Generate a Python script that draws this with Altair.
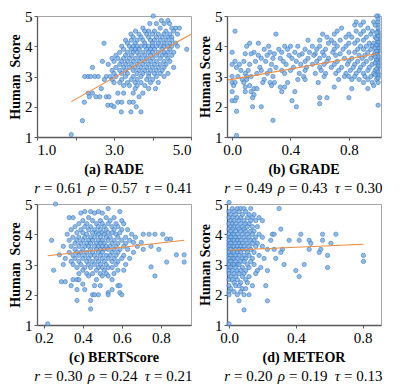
import altair as alt
import pandas as pd

# ---------------- (a) RADE ----------------
rade_levels = [5.0, 4.85, 4.75, 4.6, 4.5, 4.4, 4.3, 4.2, 4.1, 4.0, 3.9, 3.8, 3.7, 3.6, 3.5, 3.4,
               3.3, 3.2, 3.1, 3.0, 2.9, 2.8, 2.7, 2.6, 2.45, 2.33, 2.15, 2.05, 2.0, 1.83, 1.54, 1.08]
rade_rows = [
    [4.02],
    [4.23, 4.4],
    [3.93, 4.1, 4.44, 4.3],
    [4.6, 4.7, 4.5, 4.2, 3.75],
    [3.56, 3.8, 4.05, 4.35, 4.55, 3.9],
    [3.44, 3.65, 3.85, 4.0, 4.15, 4.3, 4.45, 4.65],
    [3.5, 3.7, 3.9, 4.1, 4.25, 4.4, 4.5],
    [3.3, 3.45, 3.6, 3.75, 3.95, 4.05, 4.2, 4.35, 4.5],
    [2.74, 3.35, 3.55, 3.8, 4.0, 4.15, 4.3, 4.45, 4.6],
    [3.2, 3.4, 3.5, 3.6, 3.7, 3.8, 3.9, 4.0, 4.1, 4.2, 4.3, 4.4, 4.5, 4.65],
    [3.25, 3.45, 3.55, 3.65, 3.85, 3.95, 4.05, 4.25, 4.45, 4.89],
    [3.15, 3.35, 3.5, 3.6, 3.75, 3.9, 4.0, 4.15, 4.3, 4.4, 4.55],
    [3.05, 3.3, 3.45, 3.65, 3.8, 3.95, 4.1, 4.25, 4.35, 4.5],
    [2.95, 3.1, 3.25, 3.4, 3.55, 3.7, 3.85, 4.0, 4.2, 4.4],
    [2.7, 3.0, 3.2, 3.35, 3.5, 3.65, 3.8, 3.95, 4.1, 4.3, 4.45],
    [2.85, 3.15, 3.3, 3.45, 3.6, 3.75, 3.9, 4.05, 4.2, 4.35],
    [2.44, 3.05, 3.25, 3.4, 3.55, 3.7, 3.85, 4.0, 4.15, 4.3, 4.55],
    [2.95, 3.15, 3.3, 3.5, 3.65, 3.8, 3.95, 4.1, 4.25],
    [3.0, 3.2, 3.35, 3.6, 3.75, 3.9, 4.05, 4.2, 4.4],
    [2.24, 2.33, 2.39, 2.5, 2.59, 2.8, 2.9, 3.05, 3.3, 3.5, 3.7, 3.9, 4.1, 4.3],
    [2.75, 2.95, 3.2, 3.45, 3.6, 3.85, 4.0],
    [3.0, 3.15, 3.35, 3.55, 3.7, 3.95, 4.15],
    [3.25, 3.4, 3.6, 3.8],
    [2.67, 3.55, 3.9, 4.08],
    [2.33, 2.44, 3.1, 3.25, 3.5, 3.75],
    [2.36, 2.53, 2.63, 2.8, 2.87, 3.65],
    [2.23, 3.1, 3.2, 3.4, 3.5],
    [2.84, 2.93],
    [3.0, 3.58],
    [3.19, 3.44, 3.7],
    [2.18],
    [1.89],
]
rade_line_x = [1.89, 5.0]
rade_line_y = [2.17, 4.4]
rade_caption = "(a) RADE"
rade_stats = ["0.61", "0.57", "0.41"]

# ---------------- (b) GRADE ----------------
grade_levels = [5.0, 4.9, 4.8, 4.7, 4.6, 4.5, 4.4, 4.3, 4.2, 4.1, 4.0, 3.9, 3.8, 3.75, 3.7, 3.6, 3.5,
                3.4, 3.3, 3.2, 3.1, 3.0, 2.9, 2.8, 2.7, 2.65, 2.6, 2.5, 2.4, 2.3, 2.2, 2.1, 2.05,
                2.0, 1.85, 1.55, 1.05, 3.55, 3.65, 3.85, 3.95, 4.05, 4.15, 4.25, 4.35, 4.45, 3.45,
                3.35, 3.25, 3.15, 3.05, 2.95]
grade_rows = [
    [1.0, 0.99],
    [1.0],
    [0.85, 0.9, 0.97, 1.0],
    [0.84, 0.88, 1.0, 0.98],
    [0.75, 0.93, 1.0],
    [0.02, 0.72, 0.85, 0.9, 1.0, 0.96],
    [0.3, 0.62, 0.7, 0.8, 0.88, 0.95, 1.0],
    [0.65, 0.78, 0.82, 0.92, 1.0, 0.98],
    [0.52, 0.6, 0.68, 0.74, 0.86, 0.9, 1.0],
    [0.18, 0.12, 0.66, 0.7, 0.8, 0.84, 0.94, 1.0, 0.97],
    [0.1, 0.25, 0.36, 0.4, 0.45, 0.55, 0.6, 0.72, 0.78, 0.88, 0.92, 0.96, 1.0, 0.99],
    [0.22, 0.32, 0.38, 0.5, 0.58, 0.64, 0.7, 0.76, 0.86, 0.9, 0.95, 1.0],
    [0.0, 0.15, 0.26, 0.34, 0.43, 0.53, 0.62, 0.69, 0.8, 0.84, 0.93, 0.98, 1.0],
    [0.09, 0.13, 0.29, 0.48, 0.57, 0.74],
    [0.18, 0.24, 0.39, 0.46, 0.56, 0.63, 0.71, 0.87, 0.91, 0.97, 1.0],
    [0.2, 0.28, 0.33, 0.41, 0.52, 0.6, 0.66, 0.77, 0.82, 0.89, 0.95, 1.0],
    [0.02, 0.08, 0.16, 0.23, 0.35, 0.44, 0.5, 0.58, 0.65, 0.72, 0.8, 0.86, 0.92, 0.99, 1.0],
    [0.0, 0.05, 0.12, 0.27, 0.37, 0.47, 0.55, 0.63, 0.7, 0.79, 0.84, 0.9, 0.96, 1.0],
    [0.03, 0.19, 0.3, 0.42, 0.51, 0.6, 0.68, 0.75, 0.83, 0.88, 0.94, 1.0],
    [0.06, 0.11, 0.2, 0.26, 0.34, 0.4, 0.5, 0.61, 0.73, 0.81, 0.87, 0.93, 0.98],
    [0.09, 0.17, 0.24, 0.36, 0.46, 0.57, 0.64, 0.71, 0.78, 0.85, 0.9, 0.97, 1.0],
    [0.0, 0.04, 0.1, 0.13, 0.28, 0.49, 0.63, 0.77, 0.8, 0.84, 0.91, 0.95, 1.0],
    [0.07, 0.1, 0.22, 0.45, 0.5, 0.73, 0.82, 0.87, 0.93, 0.99],
    [0.0, 0.02, 0.08, 0.21, 0.26, 0.29, 0.38, 0.59, 0.9, 0.96, 1.0],
    [0.01, 0.12, 0.27, 0.97],
    [0.09, 0.33, 0.36, 0.7],
    [0.15, 0.17, 0.82, 0.93],
    [0.0, 0.09, 0.13, 0.34, 0.43],
    [0.15],
    [0.03, 0.14, 0.6, 0.65, 0.8],
    [0.0, 0.02, 0.41],
    [0.6],
    [1.0],
    [0.14, 0.2, 0.44],
    [0.03],
    [0.28],
    [0.03],
    [1.0, 0.99], [1.0, 0.98], [1.0, 0.99], [1.0, 0.98], [1.0, 0.99], [1.0], [1.0, 0.99],
    [1.0], [1.0, 0.99], [1.0, 0.98], [1.0], [1.0, 0.99], [1.0], [1.0, 0.98], [1.0],
]
grade_line_x = [-0.03, 1.0]
grade_line_y = [2.88, 3.76]
grade_caption = "(b) GRADE"
grade_stats = ["0.49", "0.43", "0.30"]

# ---------------- (c) BERTScore ----------------
bert_levels = [5.0, 4.85, 4.75, 4.7, 4.55, 4.45, 4.35, 4.25, 4.15, 4.05, 4.0, 3.9, 3.84, 3.8, 3.73,
               3.7, 3.6, 3.5, 3.4, 3.32, 3.3, 3.2, 3.08, 3.1, 3.0, 2.92, 2.9, 2.81, 2.7, 2.62,
               2.5, 2.43, 2.35, 2.3, 2.17, 2.07, 2.0, 1.81, 1.53, 1.04]
bert_rows = [
    [0.26],
    [0.53],
    [0.44, 0.48, 0.59, 0.41],
    [0.39, 0.46, 0.5],
    [0.33, 0.35, 0.43, 0.52, 0.56],
    [0.4, 0.45, 0.49, 0.54, 0.6],
    [0.38, 0.42, 0.47, 0.5, 0.53, 0.57, 0.61],
    [0.36, 0.41, 0.44, 0.48, 0.51, 0.55, 0.58],
    [0.34, 0.39, 0.43, 0.46, 0.49, 0.52, 0.56, 0.6, 0.63],
    [0.37, 0.4, 0.45, 0.47, 0.5, 0.53, 0.55, 0.59],
    [0.32, 0.42, 0.48, 0.51, 0.57, 0.65, 0.71, 0.74, 0.77, 0.81],
    [0.35, 0.38, 0.41, 0.44, 0.46, 0.49, 0.52, 0.54, 0.58, 0.62, 0.67],
    [0.83, 0.85],
    [0.24, 0.33, 0.37, 0.4, 0.43, 0.45, 0.48, 0.5, 0.53, 0.56, 0.6, 0.64],
    [0.7, 0.66],
    [0.36, 0.39, 0.42, 0.44, 0.47, 0.49, 0.51, 0.55, 0.58, 0.62],
    [0.3, 0.34, 0.38, 0.41, 0.43, 0.46, 0.48, 0.5, 0.52, 0.54, 0.57, 0.61, 0.68, 0.75],
    [0.36, 0.4, 0.44, 0.47, 0.49, 0.51, 0.53, 0.56, 0.59, 0.63, 0.71, 0.79],
    [0.33, 0.37, 0.39, 0.42, 0.45, 0.48, 0.5, 0.55, 0.58, 0.66],
    [0.28, 0.88, 0.92],
    [0.35, 0.38, 0.41, 0.44, 0.46, 0.49, 0.52, 0.54, 0.57, 0.61],
    [0.31, 0.36, 0.4, 0.43, 0.47, 0.5, 0.53, 0.56, 0.6, 0.64],
    [0.83, 0.92],
    [0.34, 0.38, 0.42, 0.45, 0.48, 0.51, 0.55, 0.58],
    [0.3, 0.35, 0.39, 0.43, 0.46, 0.49, 0.52, 0.57, 0.62],
    [0.75],
    [0.37, 0.41, 0.44, 0.48, 0.5, 0.53, 0.55],
    [0.25, 0.4, 0.47, 0.51, 0.58, 0.61],
    [0.38, 0.42, 0.45, 0.49, 0.52, 0.56],
    [0.77, 0.43, 0.5, 0.53],
    [0.35, 0.37, 0.38, 0.47, 0.55],
    [0.29, 0.31],
    [0.4],
    [0.34, 0.46, 0.49, 0.58, 0.59],
    [0.37, 0.41, 0.55],
    [0.53, 0.59],
    [0.45, 0.46, 0.48, 0.53, 0.6],
    [0.37, 0.44],
    [0.44],
    [0.22],
]
bert_line_x = [0.22, 0.92]
bert_line_y = [3.29, 3.8]
bert_caption = "(c) BERTScore"
bert_stats = ["0.30", "0.24", "0.21"]

# ---------------- (d) METEOR ----------------
meteor_levels = [5.05, 4.85, 4.75, 4.65, 4.55, 4.45, 4.35, 4.25, 4.17, 4.1, 4.0, 3.9, 3.8, 3.7, 3.6,
                 3.5, 3.4, 3.3, 3.2, 3.1, 3.0, 2.9, 2.8, 2.7, 2.6, 2.5, 2.4, 2.3, 2.2, 2.1, 2.0,
                 1.8, 1.5, 1.04]
meteor_rows = [
    [0.0],
    [0.02, 0.05, 0.07, 0.09, 0.13, 0.30],
    [0.0, 0.03, 0.06, 0.1],
    [0.01, 0.04, 0.08, 0.12, 0.15],
    [0.0, 0.02, 0.05, 0.07, 0.11, 0.14, 0.18],
    [0.01, 0.03, 0.06, 0.09, 0.13, 0.16, 0.2],
    [0.0, 0.02, 0.04, 0.07, 0.1, 0.12],
    [0.01, 0.03, 0.05, 0.08, 0.11, 0.14, 0.17],
    [0.0, 0.02, 0.06, 0.09, 0.31],
    [0.01, 0.04, 0.07, 0.1, 0.13, 0.15],
    [0.0, 0.02, 0.03, 0.05, 0.08, 0.11, 0.14, 0.18, 0.26, 0.27, 0.43, 0.56, 0.64],
    [0.0, 0.01, 0.04, 0.06, 0.09, 0.12, 0.16, 0.2],
    [0.0, 0.02, 0.03, 0.05, 0.07, 0.1, 0.13, 0.15, 0.25, 0.36, 0.42, 0.48, 0.56],
    [0.0, 0.01, 0.04, 0.06, 0.08, 0.11, 0.14, 0.17, 0.49, 0.61],
    [0.0, 0.02, 0.03, 0.05, 0.07, 0.09, 0.12, 0.16, 0.2],
    [0.0, 0.01, 0.04, 0.06, 0.08, 0.1, 0.13, 0.23, 0.27, 0.32, 0.48, 0.55],
    [0.0, 0.02, 0.03, 0.05, 0.07, 0.11, 0.15, 0.31, 0.54],
    [0.0, 0.01, 0.04, 0.06, 0.09, 0.12, 0.18, 0.59, 0.805],
    [0.0, 0.02, 0.03, 0.05, 0.08, 0.1, 0.14, 0.21, 0.28],
    [0.0, 0.01, 0.04, 0.07, 0.09, 0.13, 0.805],
    [0.0, 0.02, 0.03, 0.05, 0.06, 0.11, 0.15, 0.33, 0.45],
    [0.0, 0.01, 0.04, 0.08, 0.12, 0.19, 0.59],
    [0.0, 0.02, 0.05, 0.07, 0.1, 0.17, 0.23, 0.4],
    [0.0, 0.03, 0.06, 0.09, 0.16],
    [0.01, 0.04, 0.08, 0.12, 0.42],
    [0.0, 0.02, 0.05, 0.1],
    [0.03, 0.07, 0.11],
    [0.0, 0.04, 0.06, 0.14, 0.22],
    [0.01, 0.08, 0.1],
    [0.0, 0.03, 0.07],
    [0.0, 0.05, 0.09, 0.12],
    [0.06, 0.23],
    [0.09],
    [0.0],
]
meteor_line_x = [0.0, 0.805]
meteor_line_y = [3.47, 3.67]
meteor_caption = "(d) METEOR"
meteor_stats = ["0.20", "0.19", "0.13"]

stat_symbols = ["r", "ρ", "τ"]
stat_offsets = [-74, -19, 36]   # junction of symbol / value, relative to panel centre

SERIF = "Liberation Serif"
PT_FILL = "#7fb2e5"
PT_STROKE = "#3f7cc5"
LINE_COLOR = "#f28a3c"


def text_mark(txt, px, py, size, weight="normal", style="normal", align="center"):
    return alt.Chart(pd.DataFrame({"t": [txt]})).mark_text(
        font=SERIF, fontSize=size, fontWeight=weight, fontStyle=style, align=align,
        baseline="middle", color="black",
    ).encode(x=alt.value(px), y=alt.value(py), text="t:N")


def panel(levels, rows, line_x, line_y, xdom, xticks, label_expr, caption, stats, ytitle, w, h):
    xs, ys = [], []
    for yv, row in zip(levels, rows):
        for xv in row:
            xs.append(xv)
            ys.append(yv)
    df = pd.DataFrame({"x": xs, "y": ys})
    ldf = pd.DataFrame({"x": line_x, "y": line_y})
    xenc = alt.X("x:Q", scale=alt.Scale(domain=xdom, nice=False, zero=False),
                 axis=alt.Axis(values=xticks, labelExpr=label_expr, title=None))
    yenc = alt.Y("y:Q", scale=alt.Scale(domain=[1, 5], nice=False, zero=False),
                 axis=alt.Axis(values=[1, 2, 3, 4, 5], format="d", title=ytitle,
                               titlePadding=2, labelPadding=2))
    pts = alt.Chart(df).mark_circle(size=18, fill=PT_FILL, stroke=PT_STROKE,
                                    strokeWidth=0.8, opacity=0.85).encode(x=xenc, y=yenc)
    line = alt.Chart(ldf).mark_line(color=LINE_COLOR, strokeWidth=1.1).encode(x=xenc, y=yenc)
    layers = [pts, line, text_mark(caption, w / 2, h + 33, 14, weight="bold")]
    for sym, val, off in zip(stat_symbols, stats, stat_offsets):
        layers.append(text_mark(sym, w / 2 + off, h + 51, 15, style="italic", align="right"))
        layers.append(text_mark("=\u00a0" + val, w / 2 + off + 4, h + 51, 15, align="left"))
    return alt.layer(*layers).properties(width=w, height=h)


W, H = 154, 121
pa = panel(rade_levels, rade_rows, rade_line_x, rade_line_y, [1.0, 5.0], [1, 2, 3, 4, 5],
           "datum.value % 2 == 1 ? format(datum.value, '.1f') : ''",
           rade_caption, rade_stats, "Human\u2002Score", W, H)
pb = panel(grade_levels, grade_rows, grade_line_x, grade_line_y, [-0.035, 1.02], [0.0, 0.4, 0.8],
           "format(datum.value, '.1f')",
           grade_caption, grade_stats, "Human Score", W, H)
pc = panel(bert_levels, bert_rows, bert_line_x, bert_line_y, [0.165, 0.955], [0.2, 0.4, 0.6, 0.8],
           "format(datum.value, '.1f')",
           bert_caption, bert_stats, "Human\u2002Score", W, H)
pd_ = panel(meteor_levels, meteor_rows, meteor_line_x, meteor_line_y, [-0.012, 0.91], [0.0, 0.4, 0.8],
            "format(datum.value, '.1f')",
            meteor_caption, meteor_stats, "Human Score", W, H)

chart = alt.concat(pa, pb, pc, pd_, columns=2, spacing={"row": 67, "column": 36},
                   bounds="flush").properties(padding=0).configure_view(
    stroke="#a6a6a6", strokeWidth=1
).configure_axis(
    domainColor="#5a5a5a", domainWidth=1.3, tickColor="#5a5a5a", tickSize=3,
    labelFont=SERIF, labelFontSize=15, labelColor="black", labelPadding=2,
    titleFont=SERIF, titleFontSize=14, titleFontWeight="bold", titleColor="black",
    grid=False,
)

chart.save("out.html", embed_options={"renderer": "svg", "actions": False})
